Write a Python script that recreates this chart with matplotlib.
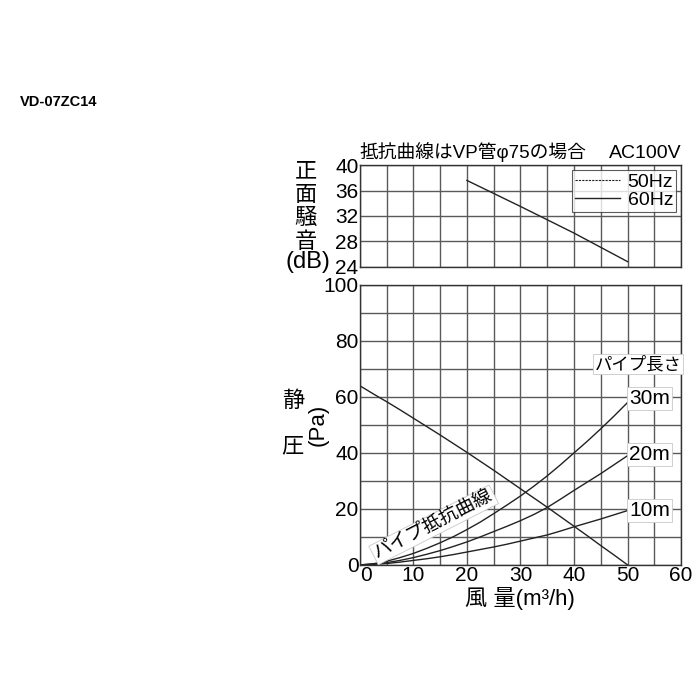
import numpy as np
import matplotlib
matplotlib.use('Agg')
import matplotlib.pyplot as plt

plt.rcParams['font.family'] = ['Liberation Sans', 'Noto Sans CJK JP', 'DejaVu Sans']

# ---- data ----
flow = [0, 2.5, 5, 7.5, 10, 12.5, 15, 17.5, 20, 22.5, 25,
        27.5, 30, 32.5, 35, 37.5, 40, 42.5, 45, 47.5, 50]
static_pressure = [64, 61.1, 58.3, 55.4, 52.4, 49.4, 46.4, 43.3, 40.2, 37.0, 33.8,
                   30.5, 27.2, 23.9, 20.6, 17.2, 13.8, 10.4, 6.9, 3.5, 0]
pipe_30m = [0, 0.4, 1.3, 2.6, 4.1, 5.9, 7.9, 10.1, 12.6, 15.3, 18.3,
            21.4, 24.6, 28.1, 31.8, 35.8, 40.0, 44.2, 48.6, 53.2, 58.0]
pipe_20m = [0, 0.25, 0.8, 1.6, 2.6, 3.8, 5.1, 6.6, 8.2, 10.0, 11.9,
            13.8, 15.8, 18.0, 20.5, 23.5, 26.6, 29.6, 32.6, 35.8, 39.0]
pipe_10m = [0, 0.18, 0.5, 1.0, 1.6, 2.2, 2.9, 3.7, 4.6, 5.5, 6.4,
            7.4, 8.5, 9.6, 10.7, 12.1, 13.6, 15.0, 16.4, 17.9, 19.4]

noise_flow = [20, 30, 40, 50]
noise_60hz = [37.6, 33.5, 29.3, 24.8]

pipe_labels = ['30m', '20m', '10m']
x_ticks = [0, 10, 20, 30, 40, 50, 60]
p_ticks = [0, 20, 40, 60, 80, 100]
db_ticks = [24, 28, 32, 36, 40]

grid_color = '#5a5a5a'
line_color = '#222222'

fig = plt.figure(figsize=(7, 7), dpi=100)
fig.patch.set_facecolor('white')

ax_top = fig.add_axes([0.514, 0.619, 0.459, 0.145])
ax_bot = fig.add_axes([0.514, 0.193, 0.459, 0.400])

for ax in (ax_top, ax_bot):
    ax.set_xlim(0, 60)
    ax.set_xticks(np.arange(0, 61, 5))
    ax.grid(True, color=grid_color, linewidth=1.0)
    ax.tick_params(length=0, labelsize=15, pad=1)
    for s in ax.spines.values():
        s.set_color('#333333')
        s.set_linewidth(1.0)

# ---- upper: noise ----
ax_top.set_ylim(24, 40)
ax_top.set_yticks(db_ticks)
ax_top.set_yticklabels([str(v) for v in db_ticks])
ax_top.set_xticklabels([])
ax_top.plot(noise_flow, noise_60hz, color=line_color, linewidth=1.0)
ax_top.plot([], [], color=line_color, linewidth=0.8, linestyle=(0, (2, 1)), label='50Hz')
ax_top.plot([], [], color=line_color, linewidth=1.0, label='60Hz')
leg = ax_top.legend(loc='upper right', fontsize=14, frameon=True, fancybox=False,
                    handlelength=2.3, handletextpad=0.4, borderpad=0.15,
                    labelspacing=0.05, borderaxespad=0.25)
leg.get_frame().set_edgecolor('#333333')
leg.get_frame().set_linewidth(0.8)

ax_top.text(0, 40.5, '抵抗曲線はVP管φ75の場合', fontsize=13.5, ha='left', va='bottom')
ax_top.text(60, 40.5, 'AC100V', fontsize=14, ha='right', va='bottom')

fig.text(0.437, 0.704, '正\n面\n騒\n音', fontsize=16, ha='center', va='center',
         linespacing=1.15)
fig.text(0.440, 0.626, '(dB)', fontsize=17, ha='center', va='center')

# ---- lower: static pressure ----
ax_bot.set_ylim(0, 100)
ax_bot.set_yticks(np.arange(0, 101, 10))
ax_bot.set_yticklabels([str(v) if v in p_ticks else '' for v in range(0, 101, 10)])
ax_bot.set_xticklabels([str(v) if v in x_ticks else '' for v in range(0, 61, 5)])
ax_bot.get_xticklabels()[0].set_ha('left')

ax_bot.plot(flow, static_pressure, color=line_color, linewidth=1.0)
for ys in (pipe_30m, pipe_20m, pipe_10m):
    ax_bot.plot(flow, ys, color=line_color, linewidth=1.0)

box = dict(boxstyle='square,pad=0.1', facecolor='white', edgecolor='#c8c8c8', linewidth=0.6)
for lab, ys, dy in zip(pipe_labels, (pipe_30m, pipe_20m, pipe_10m), (1.3, 0.4, 0.0)):
    ax_bot.text(50.3, ys[-1] + dy, lab, fontsize=15, ha='left', va='center', bbox=box)
ax_bot.text(52.0, 71.8, 'パイプ長さ', fontsize=12.5, ha='center', va='center', bbox=box)
ax_bot.text(13.8, 14.3, 'パイプ抵抗曲線', fontsize=13.5, ha='center', va='center',
            rotation=27, rotation_mode='anchor', bbox=box)

fig.text(0.419, 0.427, '静', fontsize=16, ha='center', va='center')
fig.text(0.417, 0.362, '圧', fontsize=16, ha='center', va='center')
fig.text(0.455, 0.393, '(Pa)', fontsize=16, ha='center', va='center', rotation=90)
fig.text(0.743, 0.145, '風 量(m³/h)', fontsize=16, ha='center', va='center')

fig.text(0.028, 0.854, 'VD-07ZC14', fontsize=10.5, fontweight='bold',
         family=['Liberation Sans', 'DejaVu Sans'], ha='left', va='center')

fig.savefig('out.png', dpi=100, facecolor='white')
